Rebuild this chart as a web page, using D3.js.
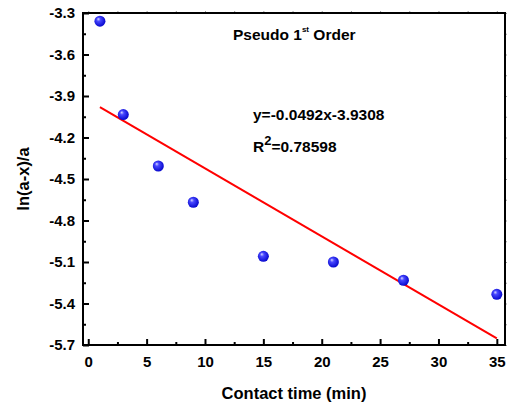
<!DOCTYPE html>
<html>
<head>
<meta charset="utf-8">
<script src="https://cdn.jsdelivr.net/npm/d3@7"></script>
<style>
  body { margin: 0; background: #fff; }
  text { font-family: "Liberation Sans", Arial, sans-serif; font-weight: bold; fill: #000; }
</style>
</head>
<body>
<main></main>
<script>
const times = [1, 3, 6, 9, 15, 21, 27, 35];
const lnValues = [-3.359, -4.034, -4.406, -4.668, -5.059, -5.100, -5.232, -5.334];
const xTicks = [0, 5, 10, 15, 20, 25, 30, 35];
const yTicks = [-3.3, -3.6, -3.9, -4.2, -4.5, -4.8, -5.1, -5.4, -5.7];
const fitSlope = -0.0492;
const fitIntercept = -3.9308;
const fitRange = [1, 35];

const w = 509;
const h = 405;
const plotL = 83, plotR = 505, plotT = 13, plotB = 345;

const svg = d3.select("main")
  .append("svg")
  .attr("width", w)
  .attr("height", h);

const x = d3.scaleLinear().domain([-0.45, 35.7]).range([plotL, plotR]);
const y = d3.scaleLinear().domain([-5.7, -3.3]).range([plotB, plotT]);

const defs = svg.append("defs");
const grad = defs.append("radialGradient")
  .attr("id", "ball")
  .attr("cx", "45%").attr("cy", "45%").attr("r", "60%")
  .attr("fx", "35%").attr("fy", "30%");
grad.append("stop").attr("offset", "0%").attr("stop-color", "#d8d8ff");
grad.append("stop").attr("offset", "30%").attr("stop-color", "#4848ff");
grad.append("stop").attr("offset", "100%").attr("stop-color", "#0000c8");

// minor ticks
const xMinor = d3.range(2.5, 35, 5);
const yMinor = d3.range(-5.55, -3.3, 0.3);

// bottom axis, ticks inward
svg.append("g")
  .attr("transform", `translate(0,${plotB})`)
  .call(d3.axisBottom(x).tickValues(xMinor).tickSize(-3).tickFormat(""))
  .call(g => g.select(".domain").remove())
  .call(g => g.selectAll("line").attr("stroke-width", 2));

svg.append("g")
  .attr("transform", `translate(0,${plotB})`)
  .call(d3.axisBottom(x).tickValues(xTicks).tickSize(-6).tickPadding(11).tickFormat(d3.format("d")))
  .call(g => g.select(".domain").remove())
  .call(g => g.selectAll("line").attr("stroke-width", 2))
  .call(g => g.selectAll("text").attr("font-size", 15));

// left axis, ticks inward
svg.append("g")
  .attr("transform", `translate(${plotL},0)`)
  .call(d3.axisLeft(y).tickValues(yMinor).tickSize(-3).tickFormat(""))
  .call(g => g.select(".domain").remove())
  .call(g => g.selectAll("line").attr("stroke-width", 2));

svg.append("g")
  .attr("transform", `translate(${plotL},0)`)
  .call(d3.axisLeft(y).tickValues(yTicks).tickSize(-6).tickPadding(8).tickFormat(d => d.toFixed(1)))
  .call(g => g.select(".domain").remove())
  .call(g => g.selectAll("line").attr("stroke-width", 2))
  .call(g => g.selectAll("text").attr("font-size", 15));

// top and right: faint outward ticks
svg.append("g")
  .attr("transform", `translate(0,${plotT})`)
  .call(d3.axisTop(x).tickValues(xTicks.concat(xMinor)).tickSize(2).tickFormat(""))
  .call(g => g.select(".domain").remove())
  .call(g => g.selectAll("line").attr("stroke", "#999"));

svg.append("g")
  .attr("transform", `translate(${plotR},0)`)
  .call(d3.axisRight(y).tickValues(yTicks.concat(yMinor)).tickSize(2).tickFormat(""))
  .call(g => g.select(".domain").remove())
  .call(g => g.selectAll("line").attr("stroke", "#999"));

// frame
svg.append("rect")
  .attr("x", plotL).attr("y", plotT)
  .attr("width", plotR - plotL).attr("height", plotB - plotT)
  .attr("fill", "none")
  .attr("stroke", "#000")
  .attr("stroke-width", 2);

// fit line
const line = d3.line().x(d => x(d)).y(d => y(fitSlope * d + fitIntercept));
svg.append("path")
  .attr("d", line(fitRange))
  .attr("stroke", "red")
  .attr("stroke-width", 2)
  .attr("fill", "none");

// points
svg.append("g")
  .selectAll("circle")
  .data(times)
  .enter()
  .append("circle")
  .attr("cx", d => x(d))
  .attr("cy", (d, i) => y(lnValues[i]))
  .attr("r", 5.5)
  .attr("fill", "url(#ball)");

// annotations
const title = svg.append("text")
  .attr("x", 233).attr("y", 40)
  .attr("font-size", 15.5);
title.append("tspan").text("Pseudo 1");
title.append("tspan").attr("dy", -8).attr("font-size", 8).text("st");
title.append("tspan").attr("dy", 8).text(" Order");

svg.append("text")
  .attr("x", 253).attr("y", 120)
  .attr("font-size", 15.5)
  .text("y=-0.0492x-3.9308");

const r2 = svg.append("text")
  .attr("x", 253).attr("y", 152)
  .attr("font-size", 15.5);
r2.append("tspan").text("R");
r2.append("tspan").attr("dy", -7).attr("font-size", 13).text("2");
r2.append("tspan").attr("dy", 7).text("=0.78598");

// axis titles
svg.append("text")
  .attr("x", 294).attr("y", 399)
  .attr("text-anchor", "middle")
  .attr("font-size", 16.5)
  .text("Contact time (min)");

svg.append("text")
  .attr("transform", `translate(29,${(plotT + plotB) / 2}) rotate(-90)`)
  .attr("text-anchor", "middle")
  .attr("font-size", 16.5)
  .text("ln(a-x)/a");
</script>
</body>
</html>
